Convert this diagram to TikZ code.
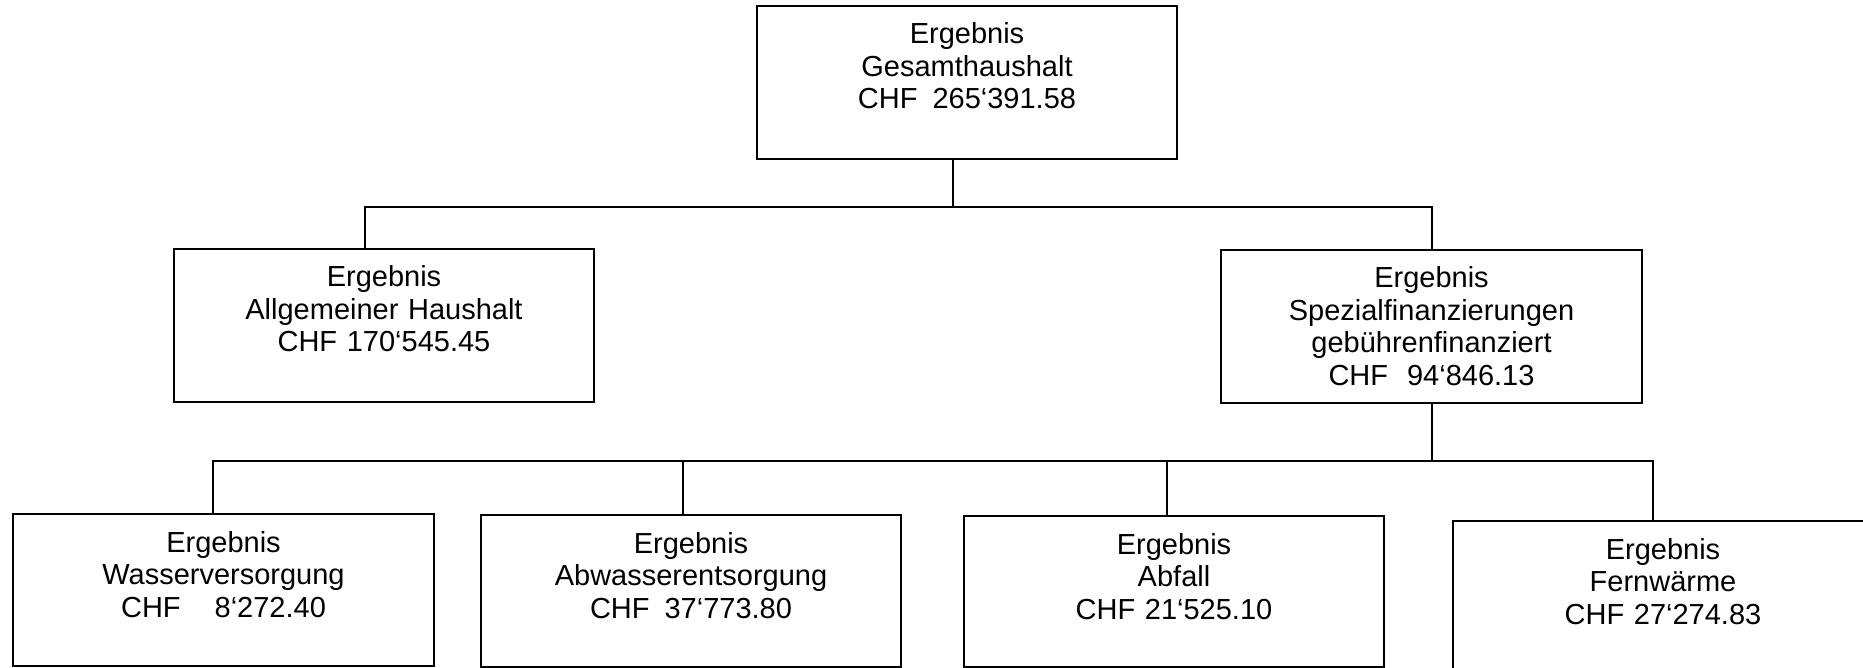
\documentclass[tikz,border=0pt]{standalone}
\usepackage{fontspec}
\setmainfont{Liberation Sans}
\begin{document}
\begin{tikzpicture}[x=1pt,y=-1pt,
  line width=2pt, line join=miter,
  box/.style 2 args={draw, rectangle, inner sep=0pt, anchor=north west,
    align=center, text width=#1pt, text height=38pt, text depth=#2pt-38pt,
    font=\fontsize{29pt}{32.5pt}\selectfont},
  conn/.style={draw}]
\useasboundingbox (0,0) rectangle (1863,668);
\clip (0,0) rectangle (1863,668);
\node[box={420}{153}] (G) at (756,5) {Ergebnis\\Gesamthaushalt\\CHF\hspace{15pt}265‘391.58};
\node[box={420}{153}] (A) at (173,248) {Ergebnis\\Allgemeiner Haushalt\\CHF 170‘545.45};
\node[box={421}{153}] (S) at (1220,249) {Ergebnis\\Spezialfinanzierungen\\gebührenfinanziert\\CHF\hspace{19pt}94‘846.13};
\node[box={421}{152}] (W) at (12,513) {Ergebnis\\Wasserversorgung\\CHF\hspace{34pt}8‘272.40};
\node[box={420}{152}] (Ab) at (480,514) {Ergebnis\\Abwasserentsorgung\\CHF\hspace{15pt}37‘773.80};
\node[box={420}{151}] (Af) at (963,515) {Ergebnis\\Abfall\\CHF 21‘525.10};
\node[box={420}{153}] (F) at (1452,520) {Ergebnis\\Fernwärme\\CHF 27‘274.83};
\coordinate (j1) at (953,207);
\coordinate (aL) at (365,207);
\coordinate (sR) at (1432,207);
\coordinate (j2) at (1432,461);
\coordinate (wT) at (213,461);
\coordinate (abT) at (683,461);
\coordinate (afT) at (1167,461);
\coordinate (fT) at (1653,461);
\draw[conn] (j1 |- G.south) -- (j1);
\draw[conn] (aL |- A.north) -- (aL) -- (sR) -- (sR |- S.north);
\draw[conn] (j2 |- S.south) -- (j2);
\draw[conn] (wT |- W.north) -- (wT) -- (fT) -- (fT |- F.north);
\draw[conn] (abT) -- (abT |- Ab.north);
\draw[conn] (afT) -- (afT |- Af.north);
\end{tikzpicture}
\end{document}
